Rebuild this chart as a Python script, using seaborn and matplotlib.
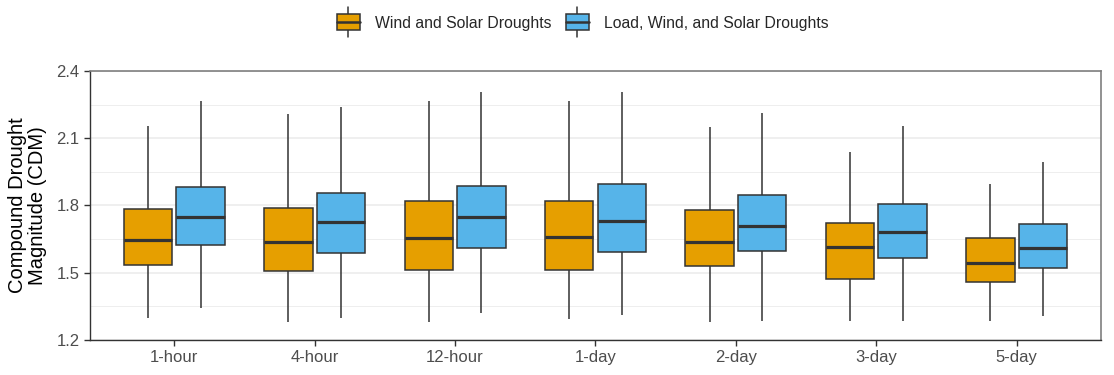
import numpy as np
import pandas as pd
import seaborn as sns
import matplotlib.pyplot as plt
from matplotlib.legend_handler import HandlerBase
from matplotlib.patches import Rectangle, Patch
from matplotlib.lines import Line2D

# box summaries (whisker low, Q1, median, Q3, whisker high)
durations = ["1-hour", "4-hour", "12-hour", "1-day", "2-day", "3-day", "5-day"]
groups = ["Wind and Solar Droughts", "Load, Wind, and Solar Droughts"]

ws_low = [1.297, 1.282, 1.282, 1.292, 1.282, 1.284, 1.284]
ws_q1 = [1.536, 1.506, 1.512, 1.513, 1.528, 1.473, 1.458]
ws_med = [1.648, 1.636, 1.655, 1.661, 1.639, 1.615, 1.545]
ws_q3 = [1.786, 1.791, 1.818, 1.821, 1.781, 1.722, 1.655]
ws_high = [2.154, 2.209, 2.264, 2.264, 2.152, 2.037, 1.898]

lws_low = [1.343, 1.298, 1.319, 1.313, 1.284, 1.284, 1.306]
lws_q1 = [1.624, 1.589, 1.609, 1.593, 1.597, 1.566, 1.521]
lws_med = [1.748, 1.727, 1.749, 1.733, 1.710, 1.683, 1.610]
lws_q3 = [1.882, 1.857, 1.889, 1.895, 1.848, 1.806, 1.719]
lws_high = [2.267, 2.239, 2.305, 2.305, 2.211, 2.154, 1.994]

colors = ["#E69F00", "#56B4E9"]
edge = "#333333"

# five points per box -> quartiles land exactly on the read values
rows = []
for g, stats in zip(groups, [(ws_low, ws_q1, ws_med, ws_q3, ws_high),
                             (lws_low, lws_q1, lws_med, lws_q3, lws_high)]):
    for i, d in enumerate(durations):
        for s in stats:
            rows.append({"duration": d, "group": g, "cdm": s[i]})
df = pd.DataFrame(rows)

sns.set_theme(style="white")
plt.rcParams['font.family'] = ['Liberation Sans', 'DejaVu Sans']

fig = plt.figure(figsize=(11.14, 3.75), dpi=100)
ax = fig.add_axes([0.0808, 0.0933, 0.9075, 0.7174])

ax.set_axisbelow(True)
ax.set_yticks([1.35, 1.65, 1.95, 2.25], minor=True)
ax.grid(True, which="major", color="#ebebeb", lw=1.1)
ax.grid(True, which="minor", axis="y", color="#ebebeb", lw=0.6)

sns.boxplot(data=df, x="duration", y="cdm", hue="group", order=durations,
            hue_order=groups, palette=colors, saturation=1, width=0.75, gap=0.08,
            whis=(0, 100), linecolor=edge, linewidth=1.1, showcaps=False,
            medianprops=dict(linewidth=2.3, color=edge), legend=False, ax=ax)

ax.set_xlim(-0.6, 6.6)
ax.set_ylim(1.2, 2.4)
ax.set_yticks([1.2, 1.5, 1.8, 2.1, 2.4])
ax.set_yticklabels(["1.2", "1.5", "1.8", "2.1", "2.4"])
ax.set_xlabel("")
ax.set_ylabel("Compound Drought\nMagnitude (CDM)", fontsize=14.5, color="black",
              linespacing=1.05, labelpad=7)
ax.tick_params(axis="both", which="major", length=4, width=1, color=edge,
               labelsize=12, labelcolor="#4d4d4d", direction="out",
               left=True, bottom=True)
ax.tick_params(axis="y", which="minor", length=0)
for side in ["top", "right"]:
    ax.spines[side].set_color("#7f7f7f")
    ax.spines[side].set_linewidth(1.2)
for side in ["left", "bottom"]:
    ax.spines[side].set_color(edge)
    ax.spines[side].set_linewidth(1.0)


class BoxKey(HandlerBase):
    def create_artists(self, legend, orig_handle, xdescent, ydescent,
                       width, height, fontsize, trans):
        x0, y0 = -xdescent, -ydescent
        cx = x0 + width / 2
        whisk = Line2D([cx, cx], [y0 - 0.45 * height, y0 + 1.45 * height],
                       color=edge, lw=1.1, transform=trans)
        box = Rectangle((x0, y0), width, height, facecolor=orig_handle.get_facecolor(),
                        edgecolor=edge, lw=1.1, transform=trans)
        med = Line2D([x0, x0 + width], [y0 + height / 2] * 2, color=edge,
                     lw=1.8, transform=trans)
        return [whisk, box, med]


handles = [Patch(facecolor=c) for c in colors]
fig.legend(handles, groups, loc="center", bbox_to_anchor=(0.523, 0.94), ncol=2,
           frameon=False, fontsize=11.3, handlelength=1.5, handleheight=1.15,
           handletextpad=0.95, columnspacing=0.9,
           handler_map={Patch: BoxKey()})

plt.savefig("out.png", dpi=100)
